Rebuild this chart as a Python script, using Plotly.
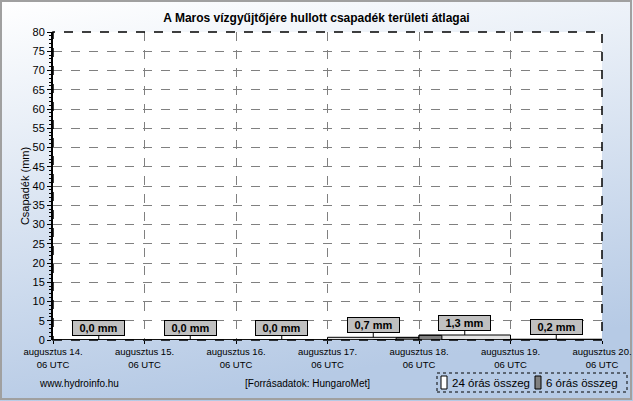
import base64
import plotly.graph_objects as go

# napi (24 órás) és 6 órás csapadékösszegek, mm
napok = ["augusztus 14.", "augusztus 15.", "augusztus 16.", "augusztus 17.",
         "augusztus 18.", "augusztus 19.", "augusztus 20."]
ora_cimke = "06 UTC"
osszeg_24 = [0.0, 0.0, 0.0, 0.7, 1.3, 0.2]
osszeg_6 = [0.0, 0.0, 0.0, 0.0,
            0.0, 0.0, 0.0, 0.0,
            0.0, 0.0, 0.0, 0.0,
            0.0, 0.0, 0.1, 0.6,
            1.2, 0.1, 0.0, 0.0,
            0.1, 0.1, 0.0, 0.0]
nev_24 = "24 órás összeg"
nev_6 = "6 órás összeg"
szin_24 = "#e4e4e4"
szin_6 = "#808080"

W, H = 633, 401
L, R, T, B = 53, 31, 32, 61
pw, ph = W - L - R, H - T - B
FONT = "Liberation Sans, Arial, sans-serif"


def px_x(p):  # képpont -> paper
    return (p - L) / pw


def px_y(p):
    return (T + ph - p) / ph


x24 = [i + 0.5 for i in range(len(osszeg_24))]
x6 = [i * 0.25 + 0.125 for i in range(len(osszeg_6))]

fig = go.Figure()
fig.add_trace(go.Bar(x=x24, y=osszeg_24, width=1, name=nev_24,
                     marker=dict(color=szin_24, line=dict(color="black", width=1))))
fig.add_trace(go.Bar(x=x6, y=osszeg_6, width=0.25, name=nev_6,
                     marker=dict(color=szin_6, line=dict(color="black", width=1))))

# címkék a napi összegekhez
for x, v in zip(x24, osszeg_24):
    fig.add_annotation(x=x, y=v, xref="x", yref="y",
                       text="<b>" + f"{v:.1f}".replace(".", ",") + " mm</b>",
                       showarrow=True, arrowhead=0, arrowwidth=1, arrowcolor="black",
                       ax=0, ay=-12, bgcolor="#c0c0c0", bordercolor="black",
                       borderwidth=1, borderpad=1, width=49, height=12,
                       font=dict(family=FONT, size=11, color="black"))

# háttér: színátmenet + keret
svg = ('<svg xmlns="http://www.w3.org/2000/svg" width="633" height="401">'
       '<defs><linearGradient id="g" x1="0" y1="0" x2="0.25" y2="1">'
       '<stop offset="0" stop-color="#ffffff"/><stop offset="1" stop-color="#b6cae5"/>'
       '</linearGradient></defs><rect width="633" height="401" fill="url(#g)"/>'
       '<rect x="1" y="1" width="630" height="398" fill="none" stroke="#a0a0a0" stroke-width="2"/></svg>')
src = "data:image/svg+xml;base64," + base64.b64encode(svg.encode()).decode()
fig.add_layout_image(source=src, xref="paper", yref="paper",
                     x=-L / pw, y=1 + T / ph, sizex=W / pw, sizey=H / ph,
                     xanchor="left", yanchor="top", sizing="stretch", layer="below")
fig.add_shape(type="rect", xref="paper", yref="paper", x0=0, x1=1, y0=0, y1=1,
              fillcolor="white", line=dict(width=0), layer="below")
fig.add_shape(type="rect", xref="paper", yref="paper", x0=0, x1=1, y0=0, y1=1,
              line=dict(color="black", width=1.5, dash="dash"))

# jelmagyarázat (pontozott keret, mint az eredetin)
fig.add_shape(type="rect", xref="paper", yref="paper",
              x0=px_x(437), x1=px_x(627), y0=px_y(392), y1=px_y(373),
              line=dict(color="black", width=1, dash="dot"))
for x0, szin, nev in [(441, "white", nev_24), (535, szin_6, nev_6)]:
    fig.add_shape(type="rect", xref="paper", yref="paper",
                  x0=px_x(x0), x1=px_x(x0 + 6), y0=px_y(389), y1=px_y(376),
                  fillcolor=szin, line=dict(color="black", width=1))
    fig.add_annotation(text=nev, xref="paper", yref="paper", x=px_x(x0 + 9),
                       y=px_y(382.5), xanchor="left", yanchor="middle", showarrow=False,
                       font=dict(family=FONT, size=11.5, color="black"))

fig.add_annotation(text="www.hydroinfo.hu", xref="paper", yref="paper",
                   x=px_x(79), y=px_y(383), xanchor="center", yanchor="middle",
                   showarrow=False, font=dict(family=FONT, size=10, color="black"))
fig.add_annotation(text="[Forrásadatok: HungaroMet]", xref="paper", yref="paper",
                   x=px_x(307), y=px_y(383), xanchor="center", yanchor="middle",
                   showarrow=False, font=dict(family=FONT, size=10, color="black"))

fig.update_layout(
    width=W, height=H,
    margin=dict(l=L, r=R, t=T, b=B, autoexpand=False),
    barmode="overlay",
    paper_bgcolor="#dfe8f3",
    plot_bgcolor="white",
    font=dict(family=FONT, size=11, color="black"),
    title=dict(text="<b>A Maros vízgyűjtőjére hullott csapadék területi átlagai</b>",
               x=0.5, xanchor="center", y=1 - 18 / H, yanchor="middle",
               font=dict(family=FONT, size=12, color="black")),
    showlegend=False,
)
fig.update_xaxes(range=[0, 6], tickvals=list(range(len(napok))),
                 ticktext=[n + "<br>" + ora_cimke for n in napok],
                 tickfont=dict(size=9.5), ticks="outside", ticklen=3, tickcolor="black",
                 ticklabeloverflow="allow",
                 showgrid=True, gridcolor="#808080", griddash="dash", gridwidth=1,
                 zeroline=False, showline=False)
fig.update_yaxes(range=[0, 80], dtick=5, ticks="outside", ticklen=4, tickcolor="black",
                 tickfont=dict(size=11),
                 minor=dict(ticks="outside", dtick=1, ticklen=2, tickcolor="black"),
                 showgrid=True, gridcolor="#808080", griddash="dash", gridwidth=1,
                 zeroline=False, showline=True, linecolor="black", linewidth=2,
                 title=dict(text="Csapadék (mm)", standoff=1, font=dict(size=11)))

fig.write_html("out.html", config={"displayModeBar": False},
               post_script="document.body.style.margin='0';")
